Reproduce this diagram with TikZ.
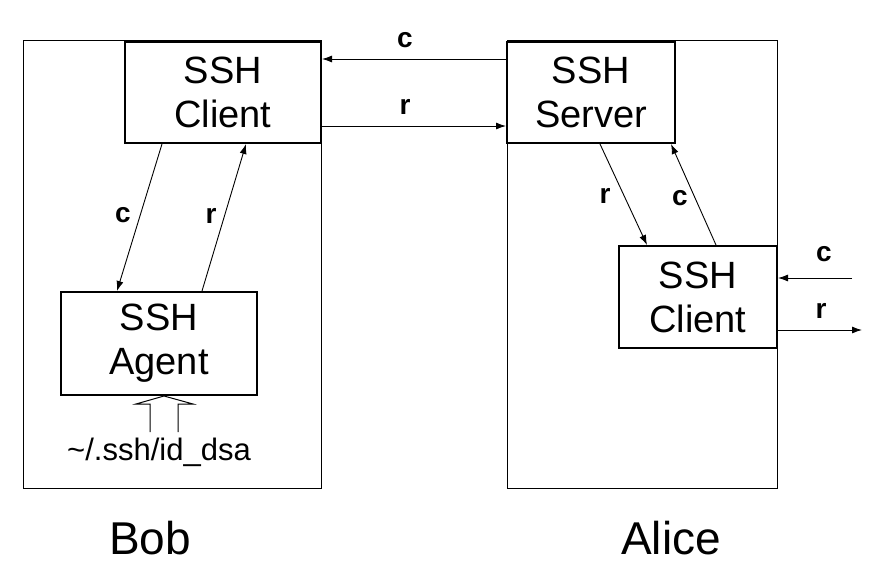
\documentclass[tikz,border=0pt]{standalone}
\usepackage{fontspec}
\setmainfont{Liberation Sans}
\usetikzlibrary{arrows.meta,calc}
\begin{document}
\begin{tikzpicture}[x=1pt,y=-1pt,
  hostframe/.style={draw,line width=1pt},
  sshbox/.style={draw,line width=2pt,inner sep=0pt,align=center,font=\fontsize{38}{44}\selectfont},
  conn/.style={line width=0.9pt,-{Latex[length=10pt,width=7pt]}},
  lbl/.style={font=\fontsize{28}{32}\bfseries\selectfont,inner sep=0pt},
  persname/.style={font=\fontsize{46}{50}\selectfont,inner sep=0pt}]
\useasboundingbox (0,0) rectangle (883,576);
\fill[white] (0,0) rectangle (883,576);
% frames
\draw[hostframe] (23,40) rectangle (321,488);
\draw[hostframe] (507,40) rectangle (777,488);
% boxes
\node[sshbox,minimum width=196pt,minimum height=101pt] (bc) at (223,92.5) {SSH\\Client};
\node[sshbox,minimum width=196pt,minimum height=103pt] (ag) at (159,343.5) {SSH\\Agent};
\node[sshbox,minimum width=168pt,minimum height=101pt] (sv) at (591,92.5) {SSH\\Server};
\node[sshbox,minimum width=158pt,minimum height=102pt] (ac) at (698,297) {SSH\\Client};
% top connectors
\draw[conn] ($(sv.north west)+(0,18)$) -- ($(bc.north east)+(0,18)$);
\draw[conn] ($(bc.north east)+(0,85)$) -- ($(sv.north west)+(0,85)$);
\node[lbl] (lc1) at (405,40) {c};
\node[lbl] (lr1) at (405,107) {r};
% Bob internal
\draw[conn] ($(bc.south west)+(38,0)$) -- ($(ag.north west)+(57,0)$);
\draw[conn] ($(ag.north west)+(142,0)$) -- ($(bc.south west)+(122,0)$);
\node[lbl] (lc2) at (123,215) {c};
\node[lbl] (lr2) at (211,216) {r};
% Alice internal
\draw[conn] ($(sv.south west)+(94,0)$) -- ($(ac.north west)+(29,0)$);
\draw[conn] ($(ac.north west)+(98,0)$) -- ($(sv.south west)+(165,0)$);
\node[lbl] (lr3) at (605,196) {r};
\node[lbl] (lc3) at (680,198) {c};
% right side
\coordinate (cin) at (852,278);
\coordinate (rout) at (862,330);
\draw[conn] (cin) -- (cin -| ac.east);
\draw[conn] (rout -| ac.east) -- (rout);
\node[lbl] (lc4) at (824,254) {c};
\node[lbl] (lr4) at (821,311) {r};
% key file and hollow arrow
\node[font=\fontsize{31}{34}\selectfont,inner sep=0pt] (key) at (159,452) {\textasciitilde/.ssh/id\_dsa};
\coordinate (tip) at ($(ag.south)+(5,0)$);
\draw[line width=1pt,fill=white,line join=miter] (150,432) -- (150,404) -- (136,404) -- (tip) -- (193,404) -- (178,404) -- (178,432);
% names
\node[persname] (bob) at (150,538) {Bob};
\node[persname] (alice) at (671,538) {Alice};
\end{tikzpicture}
\end{document}
